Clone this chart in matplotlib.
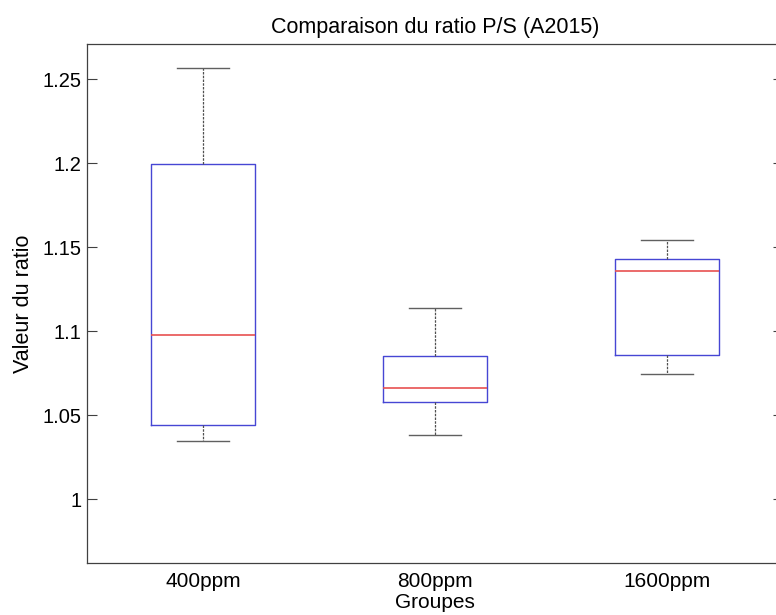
import matplotlib
matplotlib.use("Agg")
import matplotlib.pyplot as plt

groups = ["400ppm", "800ppm", "1600ppm"]
whislo = [1.0347, 1.0381, 1.0746]
q1 = [1.0439, 1.0576, 1.0861]
med = [1.0978, 1.0663, 1.1359]
q3 = [1.1998, 1.0853, 1.1427]
whishi = [1.2567, 1.1137, 1.1542]
yticks = [1.0, 1.05, 1.1, 1.15, 1.2, 1.25]
ytick_labels = ["1", "1.05", "1.1", "1.15", "1.2", "1.25"]

plt.rcParams['font.family'] = ['Liberation Sans', 'DejaVu Sans']

fig = plt.figure(figsize=(7.76, 6.15), dpi=100)
ax = fig.add_axes([87/776, 1 - 563/615, (783 - 87)/776, (563 - 44)/615])

stats = []
for g, lo, a, m, b, hi in zip(groups, whislo, q1, med, q3, whishi):
    stats.append(dict(label=g, whislo=lo, q1=a, med=m, q3=b, whishi=hi, fliers=[]))

ax.bxp(stats, positions=[1, 2, 3], widths=0.45, capwidths=0.225, showfliers=False,
       boxprops=dict(color='#4646d4', linewidth=1.0),
       medianprops=dict(color='#e85050', linewidth=1.2),
       whiskerprops=dict(color='#505050', linewidth=0.9, linestyle=(0, (2, 1))),
       capprops=dict(color='#606060', linewidth=1.0))

ax.set_xlim(0.5, 3.5)
ax.set_ylim(0.962, 1.271)
ax.set_yticks(yticks)
ax.set_yticklabels(ytick_labels)
ax.tick_params(axis='y', direction='in', length=7, width=0.8, color='#404040',
               right=True, labelsize=14.5, pad=4)
ax.tick_params(axis='x', length=0, labelsize=15, pad=6.5)
for s in ax.spines.values():
    s.set_color('#404040')
    s.set_linewidth(0.9)

ax.set_title("Comparaison du ratio P/S (A2015)", fontsize=15.5, pad=8)
ax.set_xlabel("Groupes", fontsize=15, labelpad=1.5)
ax.set_ylabel("Valeur du ratio", fontsize=15.5, labelpad=6)

fig.savefig("out.png", dpi=100)
